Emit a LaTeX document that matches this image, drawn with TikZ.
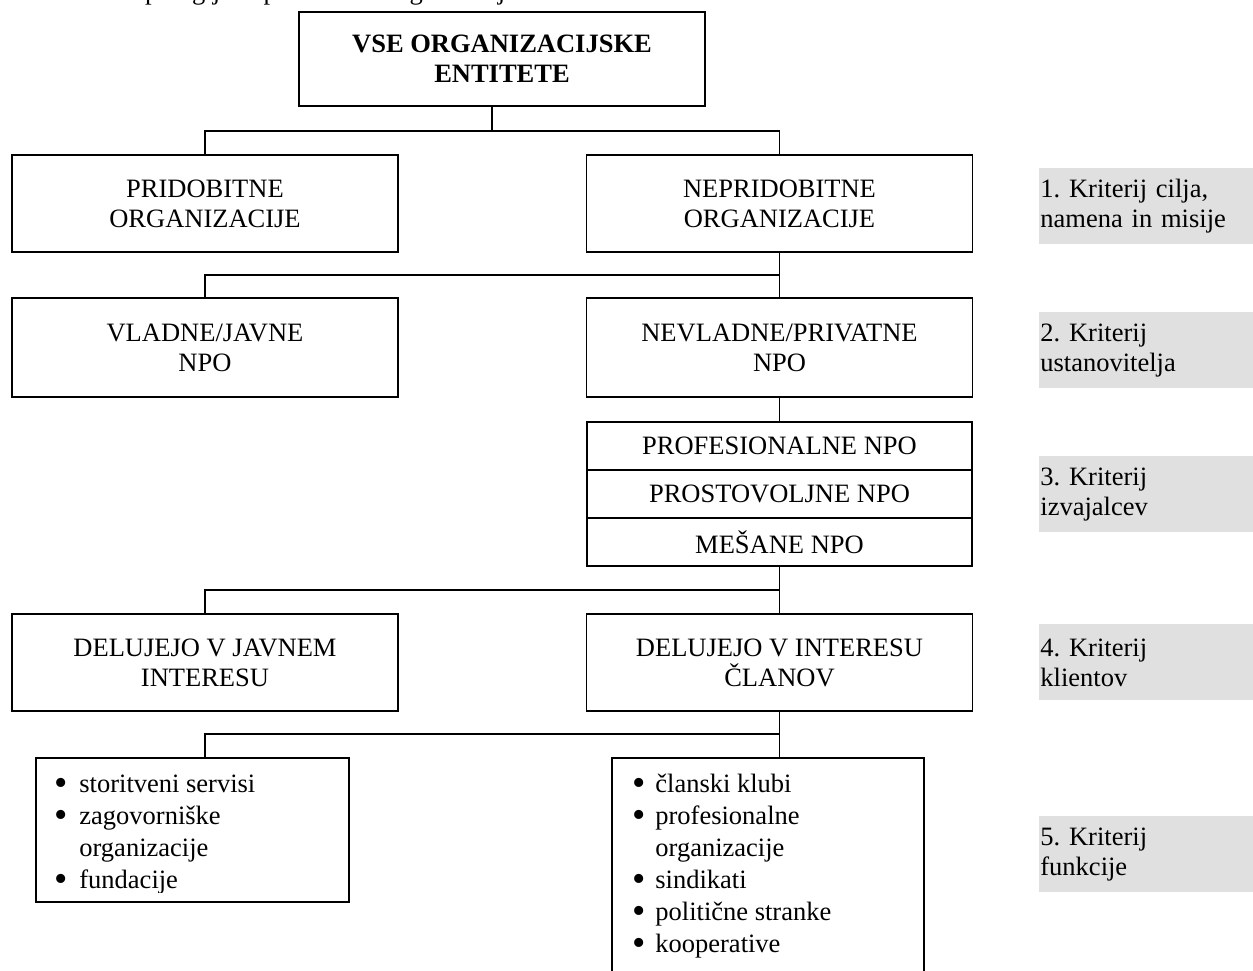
\documentclass[tikz,border=0pt]{standalone}
\usepackage{fontspec}
\setmainfont{Liberation Serif}
\definecolor{labgray}{RGB}{224,224,224}
\newcommand{\bul}{\smash{\fontsize{19pt}{15pt}\selectfont\raisebox{-1.6pt}{•}}}
\begin{document}
\frenchspacing
\begin{tikzpicture}[x=0.5pt,y=-0.5pt,
  font=\fontsize{13.25pt}{15pt}\selectfont,
  box/.style={draw, line width=0.9pt, inner sep=0pt, align=center, minimum width=193pt, minimum height=48.5pt},
  rowbox/.style={draw, line width=0.9pt, inner sep=0pt, minimum width=192.5pt, minimum height=24pt},
  listbox/.style={draw, line width=0.9pt, inner sep=0pt, minimum width=156.5pt},
  lab/.style={fill=labgray, inner xsep=0.5pt, inner ysep=0pt, anchor=north west, align=left, text width=110pt, minimum height=38pt},
  conn/.style={line width=0.9pt},
  item/.style={anchor=base west, inner sep=0pt}
]
\clip (0,0) rectangle (1253,970);
\fill[white] (0,0) rectangle (1253,970);

% cropped caption above
\node[anchor=base west, inner sep=0pt] (title) at (122,-0.5) {Tipologija nepridobitnih organizacij};

% top box
\node[box, minimum width=203pt, minimum height=47pt, font=\fontsize{13.25pt}{15pt}\selectfont\bfseries] (top) at (502,59) {VSE ORGANIZACIJSKE\\ENTITETE};

% level 1
\node[box] (prid) at (205,203.5) {PRIDOBITNE\\ORGANIZACIJE};
\node[box] (neprid) at (779.5,203.5) {NEPRIDOBITNE\\ORGANIZACIJE};

% level 2
\node[box, minimum height=49.5pt] (vlad) at (205,347.5) {VLADNE/JAVNE\\NPO};
\node[box, minimum height=49.5pt] (nevlad) at (779.5,347.5) {NEVLADNE/PRIVATNE\\NPO};

% level 3 stack
\node[rowbox] (s1) at (779.5,446) {PROFESIONALNE NPO};
\node[rowbox] (s2) at (779.5,494) {PROSTOVOLJNE NPO};
\node[rowbox] (s3) at (779.5,542) {MEŠANE NPO};

% level 4
\node[box] (delL) at (205,662.5) {DELUJEJO V JAVNEM\\INTERESU};
\node[box] (delR) at (779.5,662.5) {DELUJEJO V INTERESU\\ČLANOV};

% level 5 lists
\node[listbox, minimum height=72pt] (listL) at (192.5,830) {};
\node[listbox, minimum width=156pt, minimum height=122pt] (listR) at (768,880) {};

\begin{scope}
\clip (36,758) rectangle (349,892);
\node[item] (l1) at (54,792) {\makebox[12.5pt][l]{\bul}storitveni servisi};
\node[item] (l2) at (54,824) {\makebox[12.5pt][l]{\bul}zagovorniške};
\node[item] (l3) at (54,856) {\makebox[12.5pt][l]{}organizacije};
\node[item] (l4) at (54,888) {\makebox[12.5pt][l]{\bul}fundacije};
\end{scope}

\node[item] (r1) at (632,792) {\makebox[11.5pt][l]{\bul}članski klubi};
\node[item] (r2) at (632,824) {\makebox[11.5pt][l]{\bul}profesionalne};
\node[item] (r3) at (632,856) {\makebox[11.5pt][l]{}organizacije};
\node[item] (r4) at (632,888) {\makebox[11.5pt][l]{\bul}sindikati};
\node[item] (r5) at (632,920) {\makebox[11.5pt][l]{\bul}politične stranke};
\node[item] (r6) at (632,952) {\makebox[11.5pt][l]{\bul}kooperative};

% criteria labels
\node[lab] (k1) at (1039,168) {1. Kriterij cilja,\\namena in misije};
\node[lab] (k2) at (1039,312) {2. Kriterij\\ustanovitelja};
\node[lab] (k3) at (1039,456) {3. Kriterij\\izvajalcev};
\node[lab] (k4) at (1039,624) {4. Kriterij\\klientov};
\node[lab] (k5) at (1039,816) {5. Kriterij\\funkcije};

% connectors
\coordinate (b1) at (0,131);
\coordinate (b2) at (0,275);
\coordinate (b4) at (0,590);
\coordinate (b5) at (0,734);

\draw[conn] ([xshift=-5pt]top.south) -- ([xshift=-5pt]top.south |- b1);
\draw[conn] (prid.north) -- (prid.north |- b1) -- (neprid.north |- b1) -- (neprid.north);

\draw[conn] (neprid.south) -- (nevlad.north);
\draw[conn] (vlad.north) -- (vlad.north |- b2) -- (neprid.south |- b2);

\draw[conn] (nevlad.south) -- (s1.north);

\draw[conn] (s3.south) -- (delR.north);
\draw[conn] (delL.north) -- (delL.north |- b4) -- (s3.south |- b4);

\draw[conn] (delR.south) -- (delR.south |- listR.north);
\draw[conn] (delL.south |- listL.north) -- (delL.south |- b5) -- (delR.south |- b5);
\end{tikzpicture}
\end{document}
